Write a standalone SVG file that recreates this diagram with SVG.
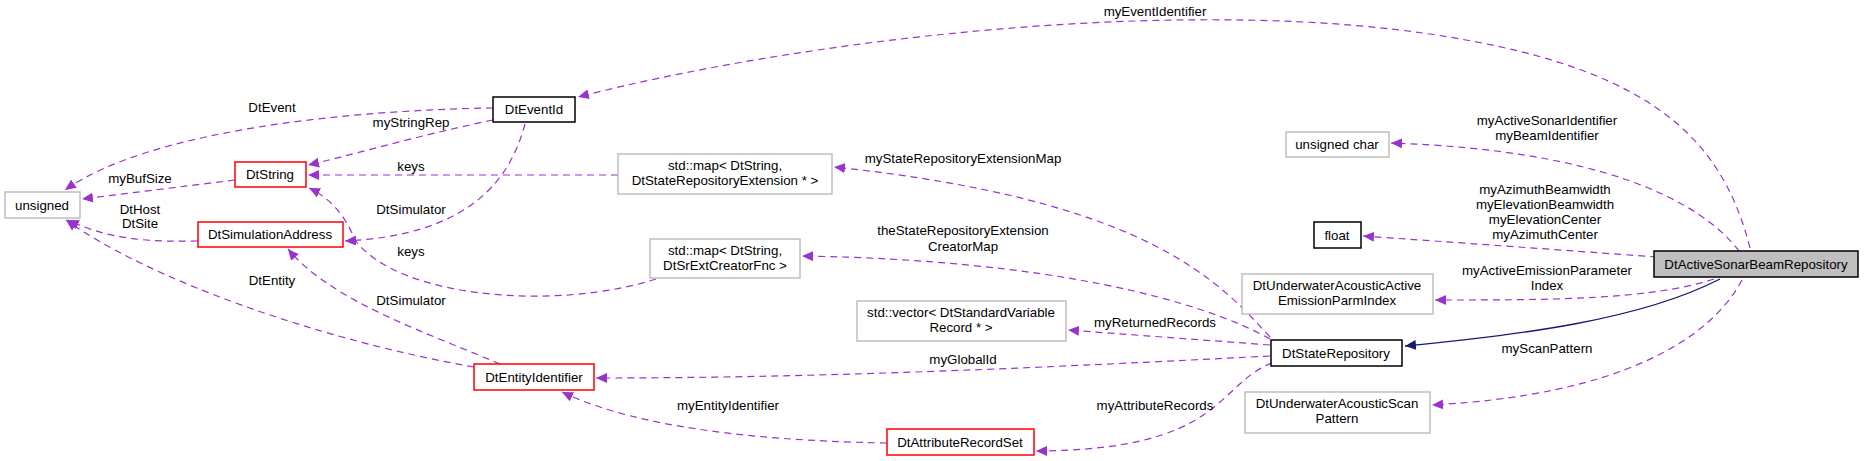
<svg xmlns="http://www.w3.org/2000/svg" width="1864" height="461" viewBox="0 0 1864 461">
<style>
text{font-family:"Liberation Sans",Arial,sans-serif;font-size:13.3px;fill:#000;text-anchor:middle}
.n rect{fill:#fff;stroke-width:1.5}
.k rect{stroke:#000}
.r rect{stroke:#ff0000}
.g rect{stroke:#bfbfbf}
.e{fill:none;stroke:#9a32cd;stroke-dasharray:7,5;stroke-width:1.2;marker-end:url(#pa)}
.i{fill:none;stroke:#191970;stroke-width:1.4;marker-end:url(#na)}
</style>
<defs>
<marker id="pa" markerUnits="userSpaceOnUse" markerWidth="12" markerHeight="10" refX="11" refY="5" orient="auto"><path d="M0,0 L11,5 L0,10 Z" fill="#9a32cd"/></marker>
<marker id="na" markerUnits="userSpaceOnUse" markerWidth="12" markerHeight="10" refX="11" refY="5" orient="auto"><path d="M0,0 L11,5 L0,10 Z" fill="#191970"/></marker>
</defs>
<rect width="1864" height="461" fill="#fff"/>
<g id="edges">
<path class="e" d="M1750,248 C1720,130 1640,60 1400,30 C1150,0 800,40 578,97"/>
<path class="e" d="M1739,251 C1700,200 1600,150 1391,143"/>
<path class="e" d="M1657,257 C1560,250 1450,242 1363,236"/>
<path class="e" d="M1714,279 C1650,300 1550,300 1435,300"/>
<path class="i" d="M1720,279 C1640,320 1520,335 1405,346"/>
<path class="e" d="M1742,280 C1710,340 1620,395 1432,405"/>
<path class="e" d="M1270,337 C1220,283 1150,200 834,167"/>
<path class="e" d="M1270,339 C1200,300 1050,260 802,256"/>
<path class="e" d="M1270,345 L1068,330"/>
<path class="e" d="M1270,356 C1000,370 800,378 596,378"/>
<path class="e" d="M1272,363 C1215,385 1225,450 1036,451"/>
<path class="e" d="M887,443 C720,440 620,420 562,392"/>
<path class="e" d="M493,108 C350,110 150,130 65,190"/>
<path class="e" d="M493,120 C420,135 340,158 308,165"/>
<path class="e" d="M618,175 L308,175"/>
<path class="e" d="M525,124 C510,180 470,235 345,241"/>
<path class="e" d="M656,279 C560,310 400,300 355,240 C345,215 330,198 309,188"/>
<path class="e" d="M235,180 L82,199"/>
<path class="e" d="M198,241 C150,242 110,240 68,220"/>
<path class="e" d="M474,367 C320,340 150,280 66,220"/>
<path class="e" d="M500,364 C420,330 330,300 288,249"/>
</g>
<g font-size="13.3">
<text x="1155" y="16">myEventIdentifier</text>
<text x="1547" y="125">myActiveSonarIdentifier</text>
<text x="1547" y="140">myBeamIdentifier</text>
<text x="1545" y="194">myAzimuthBeamwidth</text>
<text x="1545" y="209">myElevationBeamwidth</text>
<text x="1545" y="224">myElevationCenter</text>
<text x="1545" y="239">myAzimuthCenter</text>
<text x="1547" y="275">myActiveEmissionParameter</text>
<text x="1547" y="290">Index</text>
<text x="1547" y="353">myScanPattern</text>
<text x="963" y="163">myStateRepositoryExtensionMap</text>
<text x="963" y="235">theStateRepositoryExtension</text>
<text x="963" y="251">CreatorMap</text>
<text x="1155" y="327">myReturnedRecords</text>
<text x="963" y="364">myGlobalId</text>
<text x="1155" y="410">myAttributeRecords</text>
<text x="728" y="410">myEntityIdentifier</text>
<text x="272" y="112">DtEvent</text>
<text x="411" y="127">myStringRep</text>
<text x="140" y="183">myBufSize</text>
<text x="411" y="171">keys</text>
<text x="140" y="214">DtHost</text>
<text x="140" y="228">DtSite</text>
<text x="411" y="214">DtSimulator</text>
<text x="411" y="256">keys</text>
<text x="272" y="285">DtEntity</text>
<text x="411" y="305">DtSimulator</text>
</g>
<g id="DtActiveSonarBeamRepository" class="n k"><rect x="1654" y="251" width="204" height="26" style="fill:#bfbfbf"/><text x="1756" y="269">DtActiveSonarBeamRepository</text></g>
<g id="DtStateRepository" class="n k"><rect x="1271" y="340" width="131" height="26"/><text x="1336" y="358">DtStateRepository</text></g>
<g id="unsignedchar" class="n g"><rect x="1286" y="132" width="103" height="25"/><text x="1337" y="149">unsigned char</text></g>
<g id="float" class="n k"><rect x="1314" y="222" width="47" height="26"/><text x="1337" y="240">float</text></g>
<g id="EmissionParmIndex" class="n g"><rect x="1242" y="274" width="191" height="40"/><text x="1337" y="290">DtUnderwaterAcousticActive</text><text x="1337" y="305">EmissionParmIndex</text></g>
<g id="ScanPattern" class="n g"><rect x="1245" y="392" width="185" height="41"/><text x="1337" y="408">DtUnderwaterAcousticScan</text><text x="1337" y="423">Pattern</text></g>
<g id="map1" class="n g"><rect x="618" y="154" width="214" height="40"/><text x="725" y="170">std::map&lt; DtString,</text><text x="725" y="185">DtStateRepositoryExtension * &gt;</text></g>
<g id="map2" class="n g"><rect x="650" y="239" width="150" height="39"/><text x="725" y="255">std::map&lt; DtString,</text><text x="725" y="270">DtSrExtCreatorFnc &gt;</text></g>
<g id="vector" class="n g"><rect x="857" y="301" width="209" height="40"/><text x="961" y="317">std::vector&lt; DtStandardVariable</text><text x="961" y="332">Record * &gt;</text></g>
<g id="DtAttributeRecordSet" class="n r"><rect x="887" y="429" width="147" height="26"/><text x="960" y="447">DtAttributeRecordSet</text></g>
<g id="DtEntityIdentifier" class="n r"><rect x="474" y="364" width="120" height="26"/><text x="534" y="382">DtEntityIdentifier</text></g>
<g id="DtEventId" class="n k"><rect x="493" y="97" width="82" height="25"/><text x="534" y="114">DtEventId</text></g>
<g id="DtString" class="n r"><rect x="235" y="162" width="71" height="25"/><text x="270" y="179">DtString</text></g>
<g id="DtSimulationAddress" class="n r"><rect x="198" y="222" width="145" height="25"/><text x="270" y="239">DtSimulationAddress</text></g>
<g id="unsigned" class="n g"><rect x="5" y="192" width="75" height="26"/><text x="42" y="210">unsigned</text></g>
</svg>
